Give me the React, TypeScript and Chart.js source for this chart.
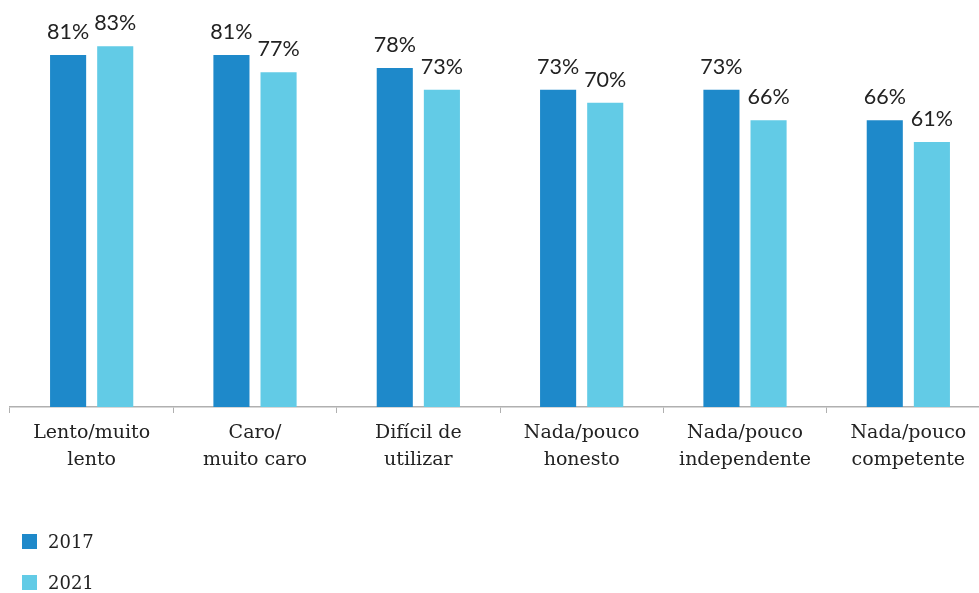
import React, { useEffect, useRef } from "react";
import { Chart, registerables } from "chart.js";

Chart.register(...registerables);

const categories: string[][] = [
  ["Lento/muito", "lento"],
  ["Caro/", "muito caro"],
  ["Difícil de", "utilizar"],
  ["Nada/pouco", "honesto"],
  ["Nada/pouco", "independente"],
  ["Nada/pouco", "competente"],
];
const series2017: number[] = [81, 81, 78, 73, 73, 66];
const series2021: number[] = [83, 77, 73, 70, 66, 61];
const seriesLabels: string[] = ["2017", "2021"];
const colors: string[] = ["#1E89CA", "#62CBE6"];

const valueLabels = {
  id: "valueLabels",
  afterDatasetsDraw(chart: any) {
    const ctx = chart.ctx;
    ctx.save();
    ctx.font = "21.5px Lato";
    ctx.fillStyle = "#222";
    ctx.textAlign = "center";
    ctx.textBaseline = "alphabetic";
    chart.data.datasets.forEach((ds: any, di: number) => {
      const meta = chart.getDatasetMeta(di);
      meta.data.forEach((bar: any, i: number) => {
        ctx.fillText(ds.data[i] + "%", bar.x, bar.y - 16);
      });
    });
    ctx.restore();
  },
};

const customLegend = {
  id: "customLegend",
  afterDraw(chart: any) {
    const ctx = chart.ctx;
    ctx.save();
    ctx.font = "18px 'DejaVu Serif'";
    ctx.textBaseline = "middle";
    ctx.textAlign = "left";
    chart.data.datasets.forEach((ds: any, di: number) => {
      const y = 534 + di * 41;
      ctx.fillStyle = ds.backgroundColor;
      ctx.fillRect(22, y, 15, 15);
      ctx.fillStyle = "#222";
      ctx.fillText(ds.label, 48, y + 9);
    });
    ctx.restore();
  },
};

export default function App() {
  const ref = useRef<HTMLCanvasElement>(null);
  useEffect(() => {
    const chart = new Chart(ref.current!, {
      type: "bar",
      data: {
        labels: categories,
        datasets: [
          { label: seriesLabels[0], data: series2017, backgroundColor: colors[0] },
          { label: seriesLabels[1], data: series2021, backgroundColor: colors[1] },
        ],
      },
      options: {
        animation: false,
        responsive: false,
        maintainAspectRatio: false,
        layout: { padding: { left: 10, right: 0, top: 0, bottom: 0 } },
        datasets: { bar: { categoryPercentage: 0.577, barPercentage: 0.766 } },
        plugins: { legend: { display: false }, tooltip: { enabled: false } },
        scales: {
          y: { display: false, min: 0, max: 93.65 },
          x: {
            afterFit: (s: any) => {
              s.height = 186;
            },
            border: { color: "#b0b0b0", width: 1.5 },
            grid: {
              offset: true,
              drawOnChartArea: false,
              color: "#b0b0b0",
              tickLength: 6,
            },
            ticks: {
              color: "#222",
              font: { family: "DejaVu Serif", size: 19, lineHeight: 1.42 },
              padding: 7,
              maxRotation: 0,
              autoSkip: false,
            },
          },
        },
      },
      plugins: [valueLabels, customLegend],
    });
    return () => chart.destroy();
  }, []);
  return (
    <div style={{ position: "fixed", left: 0, top: 0, width: 979, height: 593, overflow: "hidden", background: "#fff" }}>
      <canvas ref={ref} width={990} height={593} style={{ display: "block", width: 990, height: 593 }} />
    </div>
  );
}
